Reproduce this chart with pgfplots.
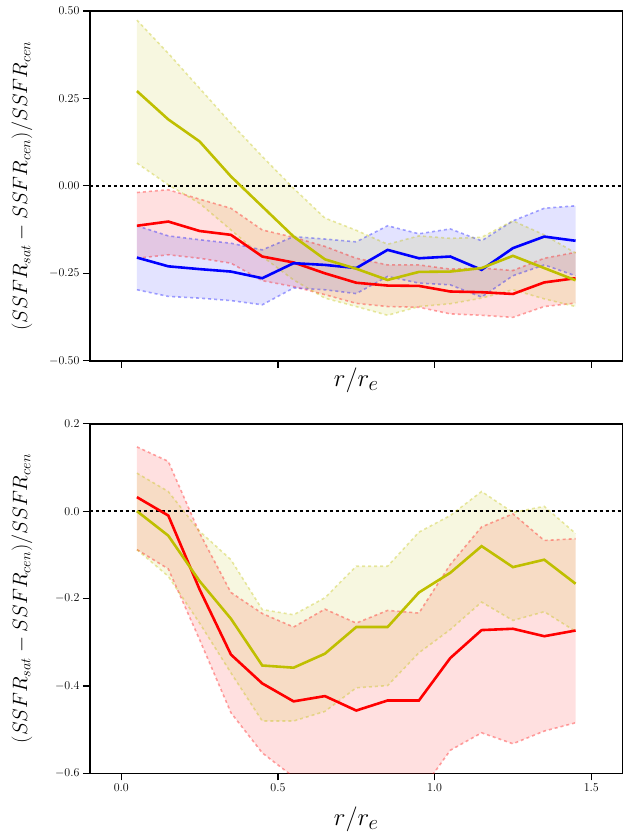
\documentclass[border=0pt]{standalone}
\usepackage{pgfplots}
\pgfplotsset{compat=1.18}
\usepackage{pgfplotstable}
\usepgfplotslibrary{fillbetween}

\definecolor{yc}{rgb}{0.75,0.75,0}

% top panel
\pgfplotstableread{
x m lo hi
0.05 -0.114 -0.207 -0.019
0.15 -0.102 -0.197 -0.011
0.25 -0.129 -0.207 -0.038
0.35 -0.140 -0.221 -0.064
0.45 -0.202 -0.271 -0.126
0.55 -0.219 -0.288 -0.147
0.65 -0.250 -0.311 -0.173
0.75 -0.277 -0.336 -0.207
0.85 -0.285 -0.345 -0.226
0.95 -0.286 -0.347 -0.226
1.05 -0.302 -0.366 -0.238
1.15 -0.304 -0.370 -0.235
1.25 -0.309 -0.376 -0.242
1.35 -0.276 -0.345 -0.207
1.45 -0.264 -0.335 -0.190
}\topred
\pgfplotstableread{
x m lo hi
0.05 -0.205 -0.297 -0.114
0.15 -0.230 -0.316 -0.143
0.25 -0.238 -0.321 -0.154
0.35 -0.245 -0.328 -0.164
0.45 -0.264 -0.340 -0.183
0.55 -0.221 -0.292 -0.145
0.65 -0.226 -0.297 -0.152
0.75 -0.235 -0.308 -0.160
0.85 -0.183 -0.259 -0.114
0.95 -0.207 -0.278 -0.137
1.05 -0.202 -0.283 -0.123
1.15 -0.240 -0.318 -0.157
1.25 -0.178 -0.257 -0.100
1.35 -0.145 -0.226 -0.064
1.45 -0.157 -0.257 -0.057
}\topblue
\pgfplotstableread{
x m lo hi
0.05 0.271 0.065 0.474
0.15 0.190 0.003 0.379
0.25 0.127 -0.050 0.279
0.35 0.027 -0.126 0.179
0.45 -0.059 -0.202 0.084
0.55 -0.145 -0.269 -0.007
0.65 -0.210 -0.321 -0.092
0.75 -0.237 -0.345 -0.127
0.85 -0.269 -0.370 -0.167
0.95 -0.246 -0.345 -0.143
1.05 -0.245 -0.337 -0.150
1.15 -0.235 -0.321 -0.147
1.25 -0.200 -0.297 -0.100
1.35 -0.235 -0.323 -0.140
1.45 -0.270 -0.345 -0.192
}\topyel
% bottom panel
\pgfplotstableread{
x m lo hi
0.05 0.032 -0.088 0.147
0.15 -0.010 -0.132 0.114
0.25 -0.179 -0.294 -0.050
0.35 -0.328 -0.461 -0.186
0.45 -0.394 -0.553 -0.234
0.55 -0.435 -0.608 -0.265
0.65 -0.423 -0.640 -0.224
0.75 -0.456 -0.660 -0.256
0.85 -0.433 -0.660 -0.227
0.95 -0.433 -0.647 -0.233
1.05 -0.336 -0.547 -0.122
1.15 -0.272 -0.507 -0.036
1.25 -0.269 -0.532 -0.006
1.35 -0.286 -0.503 -0.067
1.45 -0.273 -0.484 -0.063
}\botred
\pgfplotstableread{
x m lo hi
0.05 0.000 -0.088 0.087
0.15 -0.056 -0.149 0.045
0.25 -0.160 -0.256 -0.046
0.35 -0.246 -0.370 -0.111
0.45 -0.353 -0.480 -0.225
0.55 -0.358 -0.480 -0.237
0.65 -0.326 -0.458 -0.198
0.75 -0.265 -0.404 -0.126
0.85 -0.265 -0.399 -0.126
0.95 -0.186 -0.324 -0.048
1.05 -0.141 -0.271 -0.010
1.15 -0.080 -0.208 0.045
1.25 -0.128 -0.250 -0.003
1.35 -0.111 -0.230 0.011
1.45 -0.166 -0.275 -0.051
}\botyel

\pgfplotsset{
  panel/.style={
    scale only axis, width=533pt, height=350pt,
    xmin=-0.1, xmax=1.6,
    xtick={0,0.5,1,1.5},
    tick align=outside, tick pos=left,
    major tick length=7pt,
    every tick/.style={black, line width=1.2pt},
    axis line style={line width=1.6pt},
    ticklabel style={font=\fontsize{12}{14}\selectfont},
    xlabel={$r/r_e$},
    ylabel={$(SSFR_{sat}-SSFR_{cen})/SSFR_{cen}$},
    ylabel style={at={(axis description cs:-0.1276,0.5)}, anchor=center, rotate=0, font=\fontsize{21}{25}\selectfont},
    clip=true,
  },
  band/.style={draw=#1, draw opacity=0.35, line width=1.6pt, dash pattern=on 3pt off 3pt, forget plot},
  mline/.style={draw=#1, line width=2.6pt, forget plot},
  zline/.style={draw=black, line width=2.4pt, dash pattern=on 3pt off 3pt, forget plot},
}

\begin{document}
\begin{tikzpicture}
\begin{axis}[panel, at={(0,0)}, anchor=south west,
  ymin=-0.5, ymax=0.5,
  ytick={-0.5,-0.25,0,0.25,0.5},
  yticklabel style={/pgf/number format/.cd, fixed, fixed zerofill, precision=2},
  xticklabels={},
  xlabel style={at={(axis description cs:0.5,0)}, anchor=base, yshift=-26pt, font=\fontsize{29}{34}\selectfont},
]
\addplot[zline] coordinates {(-0.1,0) (1.6,0)};
% red
\addplot[band=red, name path=rh] table[x=x,y=hi] {\topred};
\addplot[band=red, name path=rl] table[x=x,y=lo] {\topred};
\addplot[red, fill opacity=0.12, draw=none, forget plot] fill between[of=rh and rl];
% blue
\addplot[band=blue, name path=bh] table[x=x,y=hi] {\topblue};
\addplot[band=blue, name path=bl] table[x=x,y=lo] {\topblue};
\addplot[blue, fill opacity=0.11, draw=none, forget plot] fill between[of=bh and bl];
% yellow
\addplot[band=yc, name path=yh] table[x=x,y=hi] {\topyel};
\addplot[band=yc, name path=yl] table[x=x,y=lo] {\topyel};
\addplot[yc, fill opacity=0.12, draw=none, forget plot] fill between[of=yh and yl];
\addplot[mline=red] table[x=x,y=m] {\topred};
\addplot[mline=blue] table[x=x,y=m] {\topblue};
\addplot[mline=yc] table[x=x,y=m] {\topyel};
\end{axis}

\begin{axis}[panel, at={(0,-413pt)}, anchor=south west,
  ymin=-0.6, ymax=0.2,
  ytick={-0.6,-0.4,-0.2,0,0.2},
  yticklabel style={/pgf/number format/.cd, fixed, fixed zerofill, precision=1},
  xticklabel style={/pgf/number format/.cd, fixed, fixed zerofill, precision=1},
  xlabel style={at={(axis description cs:0.5,0)}, anchor=base, yshift=-52pt, font=\fontsize{29}{34}\selectfont},
]
\addplot[zline] coordinates {(-0.1,0) (1.6,0)};
\addplot[band=red, name path=rh] table[x=x,y=hi] {\botred};
\addplot[band=red, name path=rl] table[x=x,y=lo] {\botred};
\addplot[red, fill opacity=0.12, draw=none, forget plot] fill between[of=rh and rl];
\addplot[band=yc, name path=yh] table[x=x,y=hi] {\botyel};
\addplot[band=yc, name path=yl] table[x=x,y=lo] {\botyel};
\addplot[yc, fill opacity=0.12, draw=none, forget plot] fill between[of=yh and yl];
\addplot[mline=red] table[x=x,y=m] {\botred};
\addplot[mline=yc] table[x=x,y=m] {\botyel};
\end{axis}
\path (-90pt,-474pt) rectangle (533.8pt,361pt);
\end{tikzpicture}
\end{document}
